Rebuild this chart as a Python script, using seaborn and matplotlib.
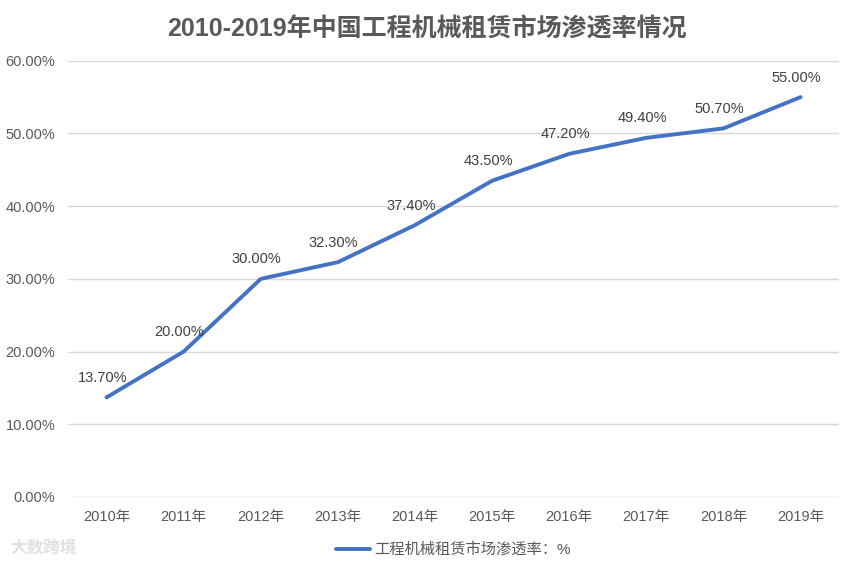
import pandas as pd
import matplotlib
matplotlib.use('Agg')
import matplotlib.pyplot as plt
import seaborn as sns

years = ['2010年', '2011年', '2012年', '2013年', '2014年',
         '2015年', '2016年', '2017年', '2018年', '2019年']
rates = [13.7, 20.0, 30.0, 32.3, 37.4, 43.5, 47.2, 49.4, 50.7, 55.0]
series_name = '工程机械租赁市场渗透率：%'

sns.set_style('white')
plt.rcParams['font.family'] = ['Liberation Sans', 'Noto Sans CJK SC', 'DejaVu Sans']

df = pd.DataFrame({'year': years, 'rate': rates})

fig = plt.figure(figsize=(8.54, 5.68), dpi=100)
ax = fig.add_axes([0.0796, 0.125, 0.903, 0.768])

sns.lineplot(data=df, x='year', y='rate', ax=ax, color='#4472C4',
             linewidth=2.8, sort=False, label=series_name)

for i, v in enumerate(rates):
    ax.annotate(f'{v:.2f}%', (i, v), xytext=(-3, 9), textcoords='offset points',
                ha='center', va='bottom', fontsize=10.5, color='#404040')

ax.set_ylim(0, 60)
ax.set_xlim(-0.5, len(years) - 0.5)
ax.set_yticks(range(0, 61, 10))
ax.set_yticklabels([f'{t:.2f}%' for t in range(0, 61, 10)])
ax.yaxis.grid(True, color='#D9D9D9', linewidth=1)
ax.xaxis.grid(False)
for s in ax.spines.values():
    s.set_visible(False)
ax.tick_params(axis='both', length=0, labelsize=10.5, colors='#595959', pad=9)
ax.set_xlabel('')
ax.set_ylabel('')

fig.suptitle('2010-2019年中国工程机械租赁市场渗透率情况', y=0.97,
             fontsize=18, fontweight='bold', color='#595959')

ax.legend(loc='upper center', bbox_to_anchor=(0.5, -0.072), frameon=False,
          fontsize=11, labelcolor='#595959', handlelength=2.2, handletextpad=0.3)

fig.text(0.012, 0.028, '大数跨境', fontsize=12, color='#E0E0E0', fontweight='bold')

fig.savefig('out.png', dpi=100)
